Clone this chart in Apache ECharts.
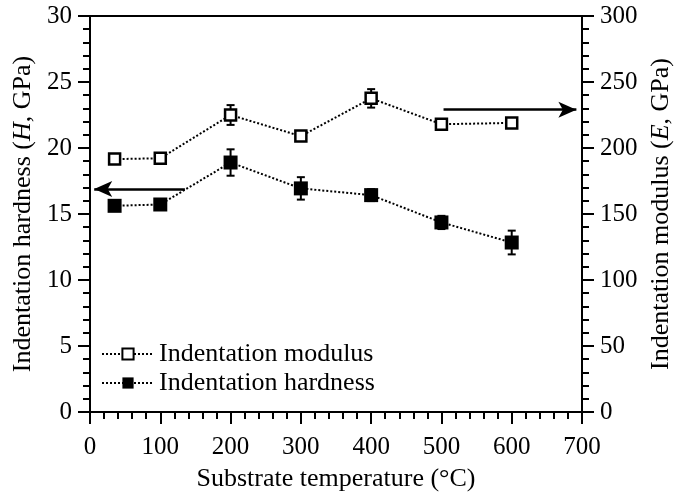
<!DOCTYPE html>
<html><head><meta charset="utf-8">
<script src="https://cdn.jsdelivr.net/npm/echarts@6/dist/echarts.min.js"></script>
<style>html,body{margin:0;padding:0;background:#fff}#c{width:675px;height:500px}</style>
</head><body><div id="c"></div>
<script>
const temps = [35, 100, 200, 300, 400, 500, 600];
const modulus = [191.6, 192.2, 225, 209, 237.6, 218, 219];
const modulusErr = [2, 2, 7.5, 3, 7, 2, 1.5];
const hardness = [15.62, 15.72, 18.9, 16.94, 16.43, 14.36, 12.84];
const hardnessErr = [0.3, 0.3, 1.0, 0.85, 0.45, 0.5, 0.9];
const leftArrow = {x0: 135, x1: 6, y: 16.9};
const rightArrow = {x0: 503, x1: 692, y: 229};
const FONT = '"Liberation Serif", "Times New Roman", serif';
const FS = 25;

const chart = echarts.init(document.getElementById('c'));

function errSeries(name, vals, errs, yIdx) {
  return {
    type: 'custom', name: name + ' err', yAxisIndex: yIdx, z: 3, silent: true,
    data: temps.map((t, i) => [t, vals[i] - errs[i], vals[i] + errs[i]]),
    renderItem: function (params, api) {
      const lo = api.coord([api.value(0), api.value(1)]);
      const hi = api.coord([api.value(0), api.value(2)]);
      const w = 4;
      const st = {stroke: '#000', lineWidth: 2};
      return {type: 'group', children: [
        {type: 'line', shape: {x1: lo[0], y1: lo[1], x2: hi[0], y2: hi[1]}, style: st},
        {type: 'line', shape: {x1: lo[0]-w, y1: lo[1], x2: lo[0]+w, y2: lo[1]}, style: st},
        {type: 'line', shape: {x1: hi[0]-w, y1: hi[1], x2: hi[0]+w, y2: hi[1]}, style: st}
      ]};
    }
  };
}

const axisCommon = {
  axisLine: {show: true, onZero: false, lineStyle: {color: '#000', width: 2}},
  axisTick: {show: true, inside: false, length: 12, lineStyle: {color: '#000', width: 2}},
  minorTick: {show: true, splitNumber: 5, length: 7, lineStyle: {color: '#000', width: 2}},
  splitLine: {show: false},
  axisLabel: {color: '#000', fontFamily: FONT, fontSize: FS, margin: 18},
  nameTextStyle: {color: '#000', fontFamily: FONT, fontSize: FS}
};
const rich = {
  n: {fontFamily: FONT, fontSize: FS + 1, color: '#000'},
  i: {fontFamily: FONT, fontSize: FS + 1, color: '#000', fontStyle: 'italic'}
};

chart.setOption({
  animation: false,
  backgroundColor: '#fff',
  grid: {left: 90, right: 93, top: 16, bottom: 88, show: true, borderColor: '#000', borderWidth: 2,
         containLabel: false, outerBoundsMode: 'none'},
  legend: {
    data: ['Indentation modulus', 'Indentation hardness'],
    orient: 'vertical', left: 96, top: 336, itemGap: 3, itemWidth: 52, itemHeight: 14,
    textStyle: {color: '#000', fontFamily: FONT, fontSize: FS + 1}
  },
  xAxis: Object.assign({}, axisCommon, {
    type: 'value', min: 0, max: 700, interval: 100,
    axisLabel: Object.assign({}, axisCommon.axisLabel, {margin: 23}),
    name: 'Substrate temperature (°C)', nameLocation: 'middle', nameGap: 54,
    nameTextStyle: {color: '#000', fontFamily: FONT, fontSize: FS + 1}
  }),
  yAxis: [
    Object.assign({}, axisCommon, {
      type: 'value', min: 0, max: 30, interval: 5, position: 'left',
      name: '{n|Indentation hardness (}{i|H}{n|, GPa)}', nameLocation: 'middle', nameGap: 45,
      nameTextStyle: {rich: rich}
    }),
    Object.assign({}, axisCommon, {
      type: 'value', min: 0, max: 300, interval: 50, position: 'right',
      name: '{n|Indentation modulus (}{i|E}{n|, GPa)}', nameLocation: 'middle', nameGap: 63, nameRotate: 90,
      nameTextStyle: {rich: rich}
    })
  ],
  series: [
    errSeries('Indentation modulus', modulus, modulusErr, 1),
    errSeries('Indentation hardness', hardness, hardnessErr, 0),
    {
      name: 'Indentation modulus', type: 'line', yAxisIndex: 1, z: 4,
      data: temps.map((t, i) => [t, modulus[i]]),
      symbol: 'rect', symbolSize: 11,
      lineStyle: {color: '#000', width: 2, type: [2, 2]},
      itemStyle: {color: '#fff', borderColor: '#000', borderWidth: 2.5},
      markLine: {
        silent: true, symbol: ['none', 'arrow'], symbolSize: [12, 18],
        lineStyle: {color: '#000', width: 2.5, type: 'solid'}, label: {show: false},
        data: [[{coord: [rightArrow.x0, rightArrow.y]}, {coord: [rightArrow.x1, rightArrow.y]}]]
      }
    },
    {
      name: 'Indentation hardness', type: 'line', yAxisIndex: 0, z: 4,
      data: temps.map((t, i) => [t, hardness[i]]),
      symbol: 'rect', symbolSize: 14,
      lineStyle: {color: '#000', width: 2, type: [2, 2]},
      itemStyle: {color: '#000', borderColor: '#000', borderWidth: 0},
      markLine: {
        silent: true, symbol: ['none', 'arrow'], symbolSize: [12, 18],
        lineStyle: {color: '#000', width: 2.5, type: 'solid'}, label: {show: false},
        data: [[{coord: [leftArrow.x0, leftArrow.y]}, {coord: [leftArrow.x1, leftArrow.y]}]]
      }
    }
  ]
});
</script></body></html>
